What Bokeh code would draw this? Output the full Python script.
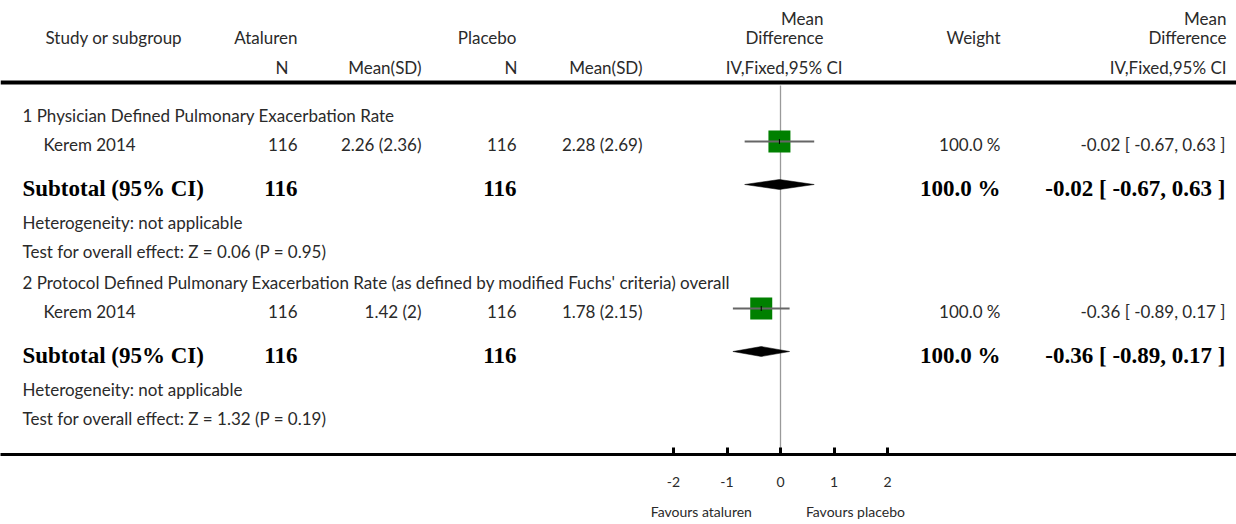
from bokeh.plotting import figure
from bokeh.models import Range1d, LinearAxis, FixedTicker, Span
from bokeh.core.properties import value
from bokeh.embed import file_html
from bokeh.resources import INLINE

# ---------------- data ----------------
subgroup_titles = [
    "1 Physician Defined Pulmonary Exacerbation Rate",
    "2 Protocol Defined Pulmonary Exacerbation Rate (as defined by modified Fuchs' criteria) overall",
]
studies = ["Kerem 2014", "Kerem 2014"]
ataluren_n = [116, 116]
ataluren_mean = [2.26, 1.42]
ataluren_sd = [2.36, 2]
placebo_n = [116, 116]
placebo_mean = [2.28, 1.78]
placebo_sd = [2.69, 2.15]
mean_diff = [-0.02, -0.36]
ci_low = [-0.67, -0.89]
ci_high = [0.63, 0.17]
weights = [100.0, 100.0]
subtotal_ataluren_n = [116, 116]
subtotal_placebo_n = [116, 116]
subtotal_md = [-0.02, -0.36]
subtotal_low = [-0.67, -0.89]
subtotal_high = [0.63, 0.17]
subtotal_weight = [100.0, 100.0]
heterogeneity = ["not applicable", "not applicable"]
z_values = [0.06, 1.32]
p_values = [0.95, 0.19]
axis_ticks = [-2, -1, 0, 1, 2]
favours_labels = ["Favours ataluren", "Favours placebo"]

# ---------------- layout ----------------
W, H = 1236, 524
ZERO_PX, PX_PER_UNIT = 780.0, 53.5
FRAME_BOTTOM = 454
SANS = value("Lato")
SERIF = value("Liberation Serif")
REG_SIZE = "17px"
BOLD_SIZE = "23px"
TXT_COLOR = "#2a2a2a"

p = figure(width=W, height=H, output_backend="svg", toolbar_location=None,
           x_axis_location=None, y_axis_location=None,
           x_range=Range1d(0, W), y_range=Range1d(FRAME_BOTTOM, 0),
           min_border_left=0, min_border_right=0, min_border_top=0,
           min_border_bottom=H - FRAME_BOTTOM)
p.outline_line_color = None
p.background_fill_color = "white"
p.border_fill_color = "white"
for g in p.grid:
    g.visible = False
p.extra_x_ranges = {"md": Range1d((0 - ZERO_PX) / PX_PER_UNIT, (W - ZERO_PX) / PX_PER_UNIT)}


def txt(x, y, s, align="left", bold=False, size=None):
    p.text(x=[x], y=[y], text=[s], text_align=align, text_baseline="middle",
           text_font=SERIF if bold else SANS,
           text_font_size=size or (BOLD_SIZE if bold else REG_SIZE),
           text_font_style="bold" if bold else "normal",
           text_color="black" if bold else TXT_COLOR)


# header
txt(45, 37, "Study or subgroup")
txt(297, 37, "Ataluren", "right")
txt(516, 37, "Placebo", "right")
txt(823, 18, "Mean", "right")
txt(823, 37, "Difference", "right")
txt(1000, 37, "Weight", "right")
txt(1226, 18, "Mean", "right")
txt(1226, 37, "Difference", "right")
txt(288, 67, "N", "right")
txt(421, 67, "Mean(SD)", "right")
txt(517, 67, "N", "right")
txt(642, 67, "Mean(SD)", "right")
txt(842, 67, "IV,Fixed,95% CI", "right")
txt(1226, 67, "IV,Fixed,95% CI", "right")

p.add_layout(Span(location=82, dimension="width", line_color="black", line_width=4))

# zero line
p.segment(x0=[0], y0=[85], x1=[0], y1=[FRAME_BOTTOM], x_range_name="md",
          line_color="#9a9a9a", line_width=1.3)

group_base = [115, 282]
for g in range(2):
    b = group_base[g]
    y_study, y_mark = b + 29, b + 26
    y_sub, y_dia = b + 73, b + 69
    txt(22, b, subgroup_titles[g])
    txt(43, y_study, studies[g])
    txt(297, y_study, f"{ataluren_n[g]}", "right")
    txt(421, y_study, f"{ataluren_mean[g]:g} ({ataluren_sd[g]:g})", "right")
    txt(516, y_study, f"{placebo_n[g]}", "right")
    txt(642, y_study, f"{placebo_mean[g]:g} ({placebo_sd[g]:g})", "right")
    txt(1000, y_study, f"{weights[g]:.1f} %", "right")
    txt(1225, y_study, f"{mean_diff[g]:.2f} [ {ci_low[g]:.2f}, {ci_high[g]:.2f} ]", "right")

    # study marker
    p.scatter(x=[mean_diff[g]], y=[y_mark], marker="square", size=22,
              fill_color="#008000", line_color=None, x_range_name="md")
    p.segment(x0=[ci_low[g]], y0=[y_mark], x1=[ci_high[g]], y1=[y_mark],
              x_range_name="md", line_color="#666666", line_width=2)
    p.segment(x0=[mean_diff[g]], y0=[y_mark - 2.5], x1=[mean_diff[g]], y1=[y_mark + 2.5],
              x_range_name="md", line_color="black", line_width=1)

    # subtotal
    txt(22, y_sub, "Subtotal (95% CI)", bold=True)
    txt(297, y_sub, f"{subtotal_ataluren_n[g]}", "right", bold=True)
    txt(516, y_sub, f"{subtotal_placebo_n[g]}", "right", bold=True)
    txt(1000, y_sub, f"{subtotal_weight[g]:.1f} %", "right", bold=True)
    txt(1225, y_sub, f"{subtotal_md[g]:.2f} [ {subtotal_low[g]:.2f}, {subtotal_high[g]:.2f} ]",
        "right", bold=True)
    p.patches(xs=[[subtotal_low[g], subtotal_md[g], subtotal_high[g], subtotal_md[g]]],
              ys=[[y_dia, y_dia - 5, y_dia, y_dia + 5]], x_range_name="md",
              fill_color="black", line_color="black", line_width=0.5)

    txt(22, b + 107, f"Heterogeneity: {heterogeneity[g]}")
    txt(22, b + 136, f"Test for overall effect: Z = {z_values[g]:.2f} (P = {p_values[g]:.2f})")

# axes
ax = LinearAxis(x_range_name="md", ticker=FixedTicker(ticks=axis_ticks, minor_ticks=[]),
                major_label_overrides={t: str(t) for t in axis_ticks})
ax.axis_line_width = 3
ax.axis_line_color = "black"
ax.major_tick_in = 7
ax.major_tick_out = 0
ax.major_tick_line_width = 3
ax.minor_tick_line_color = None
ax.major_label_standoff = 22
ax.major_label_text_font = "Lato"
ax.major_label_text_font_size = "14px"
ax.major_label_text_color = TXT_COLOR
p.add_layout(ax, "below")

fav_pos = [-1.48, 1.40]
ax2 = LinearAxis(x_range_name="md", ticker=FixedTicker(ticks=fav_pos, minor_ticks=[]),
                 major_label_overrides={fav_pos[0]: favours_labels[0], fav_pos[1]: favours_labels[1]})
ax2.axis_line_color = None
ax2.major_tick_line_color = None
ax2.minor_tick_line_color = None
ax2.major_tick_in = 0
ax2.major_tick_out = 0
ax2.major_label_standoff = 13
ax2.major_label_text_font = "Lato"
ax2.major_label_text_font_size = "14px"
ax2.major_label_text_color = TXT_COLOR
p.add_layout(ax2, "below")

open("out.html", "w").write(file_html(p, INLINE))
